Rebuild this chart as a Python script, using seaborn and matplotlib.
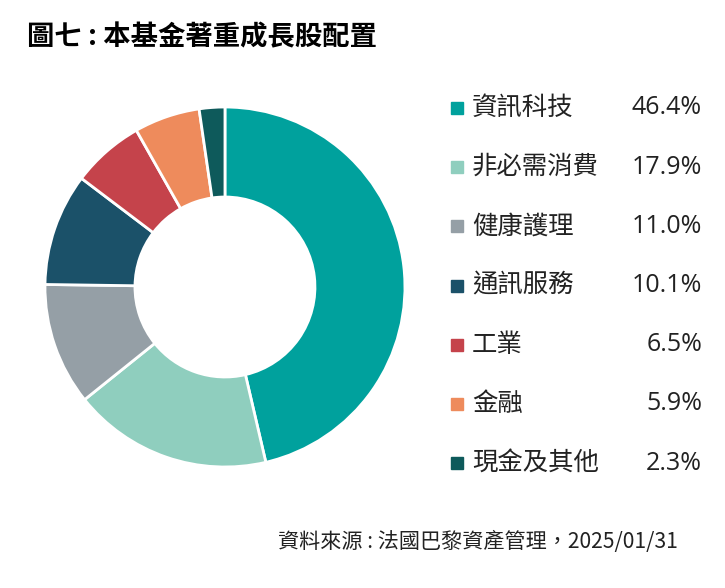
import matplotlib
matplotlib.use('Agg')
import matplotlib.pyplot as plt
import seaborn as sns

# --- DATI ---
settori = ['資訊科技', '非必需消費', '健康護理', '通訊服務', '工業', '金融', '現金及其他']
pesi = [46.4, 17.9, 11.0, 10.1, 6.5, 5.9, 2.3]
colori = ['#00A19D', '#8FCEBE', '#959FA6', '#1B5169', '#C5434B', '#EE8B5C', '#0E5A5B']
titolo = '圖七 : 本基金著重成長股配置'
fonte = '資料來源 : 法國巴黎資產管理，2025/01/31'

sns.set_theme(style='white')
plt.rcParams['font.family'] = ['Noto Sans CJK TC', 'DejaVu Sans']

fig = plt.figure(figsize=(7.25, 5.88), dpi=100)
fig.patch.set_facecolor('white')

# --- CIAMBELLA ---
ax = fig.add_axes([0.062, 0.2058, 0.4966, 0.6122])
ax.pie(pesi, colors=colori, startangle=90, counterclock=False, radius=1,
       wedgeprops=dict(width=0.5, edgecolor='white', linewidth=2))
ax.set_xlim(-1.0, 1.0)
ax.set_ylim(-1.0, 1.0)
ax.set_aspect('equal')
ax.axis('off')

# --- LEGENDA ---
y0 = 1 - 108 / 588
passo = 59.2 / 588
for i, (nome, val, col) in enumerate(zip(settori, pesi, colori)):
    y = y0 - i * passo
    fig.patches.append(plt.Rectangle((451 / 725, y - 6 / 588), 12 / 725, 12 / 588,
                                     transform=fig.transFigure, color=col))
    fig.text(472 / 725, y, nome, fontsize=18.3, fontweight='medium', va='center',
             ha='left', color='#222222')
    fig.text(702 / 725, y, f'{val:.1f}%', fontsize=18, va='center', ha='right',
             color='#222222', family=['Open Sans', 'DejaVu Sans'])

# --- TESTI ---
fig.text(27 / 725, 1 - 37 / 588, titolo, fontsize=19.7, fontweight='bold',
         va='center', ha='left', color='black')
fig.text(678 / 725, 1 - 542 / 588, fonte, fontsize=15.2, va='center', ha='right',
         color='#222222')

fig.savefig('out.png', dpi=100, facecolor='white')
